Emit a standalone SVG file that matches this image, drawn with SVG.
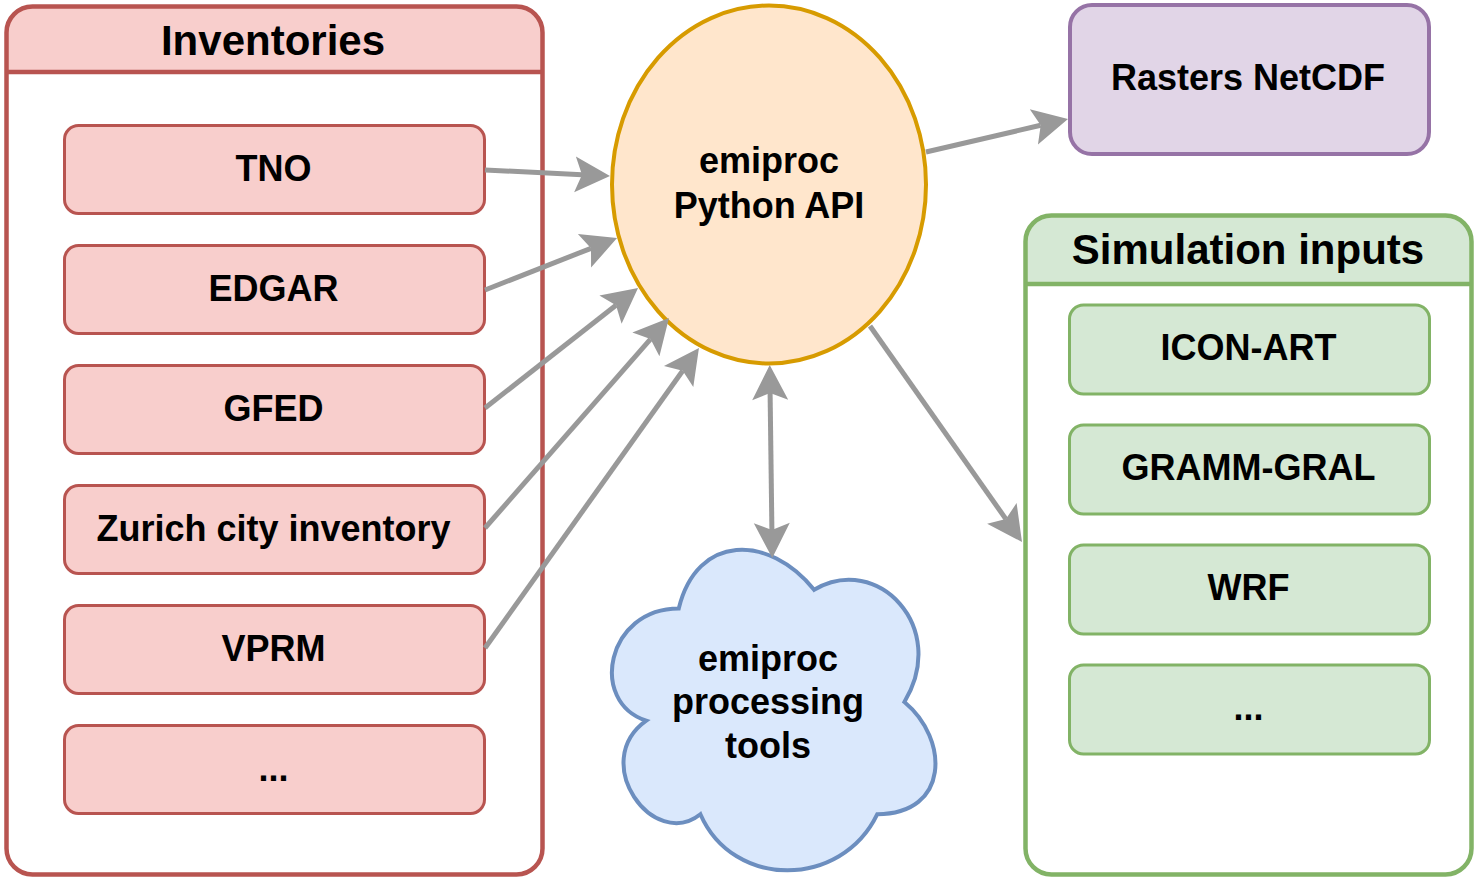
<svg xmlns="http://www.w3.org/2000/svg" width="1476" height="891" viewBox="0 0 1476 891">
<style>
text{font-family:"Liberation Sans",Arial,Helvetica,sans-serif;font-weight:bold;fill:#000;text-anchor:middle}
.t{font-size:36px}
.h{font-size:42px}
.inv{fill:#f8cecc;stroke:#b85450;stroke-width:3}
.sim{fill:#d5e8d4;stroke:#82b366;stroke-width:3}
.edge{fill:none;stroke:#999999;stroke-width:5}
</style>
<defs>
<marker id="arr" markerUnits="userSpaceOnUse" markerWidth="80" markerHeight="80" refX="0" refY="0" orient="auto-start-reverse" overflow="visible">
<path d="M 28 0 L -7 -18 L 0 0 L -7 18 Z" fill="#999999"/>
</marker>
</defs>
<rect width="1476" height="891" fill="#ffffff"/>

<g id="inventories">
<rect x="6.5" y="6.5" width="536" height="868" rx="26" fill="#ffffff"/>
<path d="M 6.5 72 V 32.5 A 26 26 0 0 1 32.5 6.5 H 516.5 A 26 26 0 0 1 542.5 32.5 V 72 Z" fill="#f8cecc"/>
<line x1="6.5" y1="72" x2="542.5" y2="72" stroke="#b85450" stroke-width="4.5"/>
<rect x="6.5" y="6.5" width="536" height="868" rx="26" fill="none" stroke="#b85450" stroke-width="4.5"/>
<text class="h" x="273" y="55">Inventories</text>
</g>
<g id="tno"><rect class="inv" x="64.5" y="125.5" width="420" height="88" rx="14"/><text class="t" x="273.5" y="180.5">TNO</text></g>
<g id="edgar"><rect class="inv" x="64.5" y="245.5" width="420" height="88" rx="14"/><text class="t" x="273.5" y="300.5">EDGAR</text></g>
<g id="gfed"><rect class="inv" x="64.5" y="365.5" width="420" height="88" rx="14"/><text class="t" x="273.5" y="420.5">GFED</text></g>
<g id="zurich"><rect class="inv" x="64.5" y="485.5" width="420" height="88" rx="14"/><text class="t" x="273.5" y="540.5">Zurich city inventory</text></g>
<g id="vprm"><rect class="inv" x="64.5" y="605.5" width="420" height="88" rx="14"/><text class="t" x="273.5" y="660.5">VPRM</text></g>
<g id="inv-more"><rect class="inv" x="64.5" y="725.5" width="420" height="88" rx="14"/><text class="t" x="273.5" y="780.5">...</text></g>

<g id="api">
<ellipse cx="769" cy="184.5" rx="157" ry="179" fill="#ffe6cc" stroke="#d79b00" stroke-width="4"/>
<text class="t" x="769" y="173">emiproc</text>
<text class="t" x="769" y="218">Python API</text>
</g>

<g id="rasters">
<rect x="1070" y="5" width="359" height="149" rx="22" fill="#e1d5e7" stroke="#9673a6" stroke-width="4"/>
<text class="t" x="1248" y="90">Rasters NetCDF</text>
</g>

<g id="simulation">
<rect x="1025.5" y="215.5" width="446" height="659" rx="26" fill="#ffffff"/>
<path d="M 1025.5 284 V 241.5 A 26 26 0 0 1 1051.5 215.5 H 1445.5 A 26 26 0 0 1 1471.5 241.5 V 284 Z" fill="#d5e8d4"/>
<line x1="1025.5" y1="284" x2="1471.5" y2="284" stroke="#82b366" stroke-width="4.5"/>
<rect x="1025.5" y="215.5" width="446" height="659" rx="26" fill="none" stroke="#82b366" stroke-width="4.5"/>
<text class="h" x="1248" y="264">Simulation inputs</text>
</g>
<g id="icon-art"><rect class="sim" x="1069.5" y="305" width="360" height="89" rx="14"/><text class="t" x="1248.5" y="360">ICON-ART</text></g>
<g id="gramm-gral"><rect class="sim" x="1069.5" y="425" width="360" height="89" rx="14"/><text class="t" x="1248.5" y="480">GRAMM-GRAL</text></g>
<g id="wrf"><rect class="sim" x="1069.5" y="545" width="360" height="89" rx="14"/><text class="t" x="1248.5" y="600">WRF</text></g>
<g id="sim-more"><rect class="sim" x="1069.5" y="665" width="360" height="89" rx="14"/><text class="t" x="1248.5" y="720">...</text></g>

<g id="tools">
<path d="M 678.75 608.5 C 606.55 608.5 588.5 702 646.26 720.7 C 588.5 761.84 653.48 851.6 700.41 814.2 C 732.9 889 841.2 889 877.3 814.2 C 949.5 814.2 949.5 739.4 904.4 702 C 949.5 627.2 877.3 552.4 814.1 589.8 C 769 533.7 696.8 533.7 678.75 608.5 Z" fill="#dae8fc" stroke="#6c8ebf" stroke-width="4"/>
<text class="t" x="768" y="671">emiproc</text>
<text class="t" x="768" y="714">processing</text>
<text class="t" x="768" y="758">tools</text>
</g>

<g id="connectors">
<line class="edge" x1="485" y1="170" x2="582" y2="174.7" marker-end="url(#arr)"/>
<line class="edge" x1="485" y1="290" x2="591" y2="248.3" marker-end="url(#arr)"/>
<line class="edge" x1="485" y1="408" x2="616" y2="305.3" marker-end="url(#arr)"/>
<line class="edge" x1="485" y1="528" x2="650.5" y2="339.1" marker-end="url(#arr)"/>
<line class="edge" x1="485" y1="648" x2="682.7" y2="370.8" marker-end="url(#arr)"/>
<line class="edge" x1="926" y1="152" x2="1040.7" y2="125.3" marker-end="url(#arr)"/>
<line class="edge" x1="870" y1="326" x2="1005.9" y2="519.1" marker-end="url(#arr)"/>
<line class="edge" x1="770.1" y1="393" x2="771.9" y2="530" marker-start="url(#arr)" marker-end="url(#arr)"/>
</g>
</svg>
